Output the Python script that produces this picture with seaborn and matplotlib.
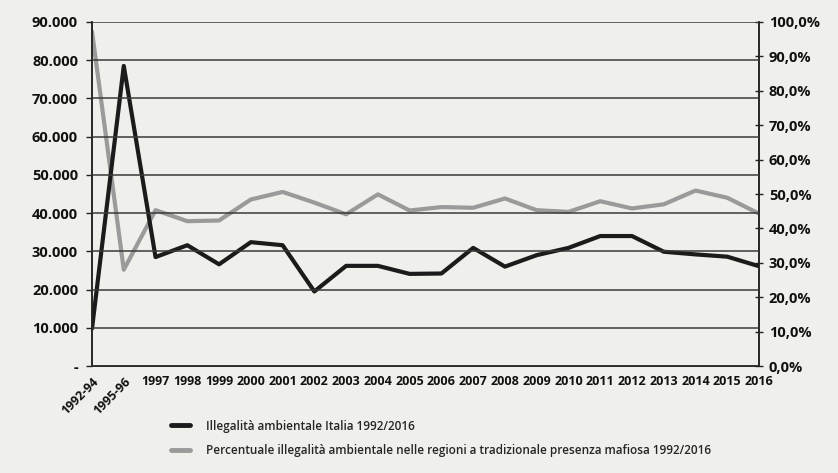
import matplotlib
matplotlib.use("Agg")
import matplotlib.pyplot as plt
from matplotlib.lines import Line2D
import pandas as pd
import seaborn as sns

# data
periods = ['1992-94', '1995-96', '1997', '1998', '1999', '2000', '2001', '2002',
           '2003', '2004', '2005', '2006', '2007', '2008', '2009', '2010',
           '2011', '2012', '2013', '2014', '2015', '2016']
illegalita_italia = [9800, 78500, 28500, 31600, 26600, 32400, 31600, 19500,
                     26200, 26200, 24100, 24200, 30900, 26000, 29000, 30900,
                     34000, 34000, 29900, 29200, 28600, 26100]
perc_mafiosa = [97.2, 28.0, 45.3, 42.1, 42.3, 48.4, 50.6, 47.5, 44.1, 49.9,
                45.2, 46.2, 46.0, 48.7, 45.3, 44.8, 47.9, 45.8, 47.0, 51.0,
                48.9, 44.3]

left_ticks = [0, 10000, 20000, 30000, 40000, 50000, 60000, 70000, 80000, 90000]
left_labels = ['-', '10.000', '20.000', '30.000', '40.000', '50.000',
               '60.000', '70.000', '80.000', '90.000']
right_ticks = [0, 10, 20, 30, 40, 50, 60, 70, 80, 90, 100]
right_labels = ['0,0%', '10,0%', '20,0%', '30,0%', '40,0%', '50,0%',
                '60,0%', '70,0%', '80,0%', '90,0%', '100,0%']

label_black = 'Illegalità ambientale Italia 1992/2016'
label_gray = 'Percentuale illegalità ambientale nelle regioni a tradizionale presenza mafiosa 1992/2016'

df = pd.DataFrame({'periodo': periods, 'italia': illegalita_italia,
                   'perc': perc_mafiosa})

sns.set_style('white')
plt.rcParams['font.family'] = ['Open Sans', 'DejaVu Sans']

bg = '#efefeb'
black = '#1b1b1b'
gray = '#9a9a9a'

fig = plt.figure(figsize=(8.38, 4.73), dpi=100, facecolor=bg)
ax = fig.add_axes([0.1098, 0.2262, 0.796, 0.7273])
ax.set_facecolor(bg)
ax2 = ax.twinx()

sns.lineplot(data=df, x='periodo', y='perc', ax=ax2, color=gray, lw=3,
             sort=False, legend=False)
sns.lineplot(data=df, x='periodo', y='italia', ax=ax, color=black, lw=3,
             sort=False, legend=False)
# black line drawn over the gray one
ax.set_zorder(2)
ax.patch.set_visible(False)
ax2.set_zorder(1)
ax2.patch.set_visible(True)
ax2.patch.set_facecolor(bg)

ax.set_xlim(0, len(periods) - 1)
ax.set_ylim(0, 90000)
ax2.set_ylim(0, 100)

ax.set_yticks(left_ticks)
ax.set_yticklabels(left_labels, fontsize=10.5, fontweight='bold')
ax2.set_yticks(right_ticks)
ax2.set_yticklabels(right_labels, fontsize=10.5, fontweight='bold')

ax.set_xticks(range(len(periods)))
ax.set_xticklabels(periods, fontsize=9, fontweight='bold')
for i, t in enumerate(ax.get_xticklabels()):
    if i < 2:
        t.set_rotation(45)
        t.set_ha('right')
        t.set_rotation_mode('anchor')

ax.set_xlabel('')
ax.set_ylabel('')
ax2.set_ylabel('')

ax.yaxis.grid(True, color='#3a3a3a', lw=1.1)
ax.set_axisbelow(False)
for gl in ax.get_ygridlines():
    gl.set_zorder(0.5)

for a in (ax, ax2):
    a.spines['top'].set_visible(False)
    for s in ('left', 'right', 'bottom'):
        a.spines[s].set_color('#222222')
        a.spines[s].set_linewidth(1.1)

ax.tick_params(axis='y', direction='out', length=4, width=1, color='#222222',
               pad=6, labelcolor='#111111')
ax2.tick_params(axis='y', direction='inout', length=6, width=1, color='#222222',
                pad=4, labelcolor='#111111')
ax.tick_params(axis='x', direction='inout', length=5, width=1, color='#222222',
               pad=4, labelcolor='#111111')

handles = [Line2D([], [], color=black, lw=3.5),
           Line2D([], [], color=gray, lw=3.5)]
fig.legend(handles, [label_black, label_gray], loc='upper left',
           bbox_to_anchor=(0.204, 0.113), frameon=False, handlelength=1.6,
           handletextpad=1.35, labelspacing=0.95,
           prop={'size': 8.5, 'weight': 'semibold'}, borderaxespad=0,
           borderpad=0)

fig.savefig('out.png', dpi=100, facecolor=bg)
